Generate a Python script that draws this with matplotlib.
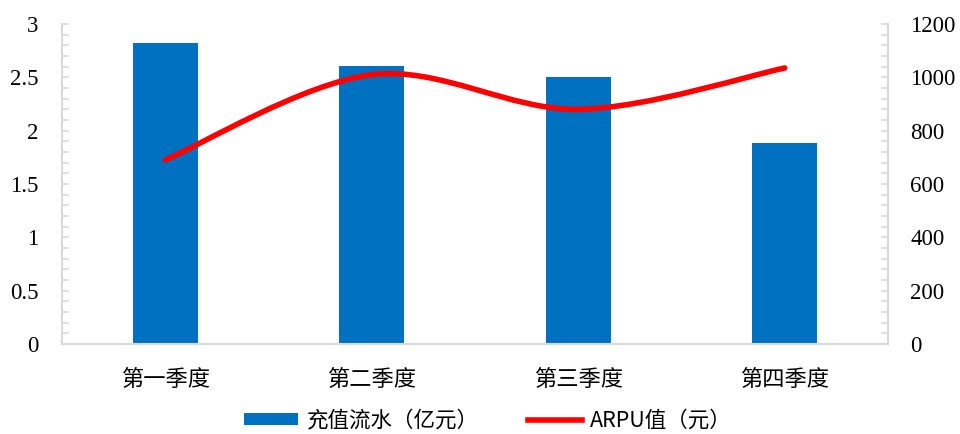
import matplotlib
matplotlib.use("Agg")
import matplotlib.pyplot as plt
from matplotlib.path import Path
from matplotlib.patches import PathPatch
from matplotlib.lines import Line2D
from matplotlib.patches import Patch
from matplotlib.ticker import MultipleLocator
import numpy as np

categories = ["第一季度", "第二季度", "第三季度", "第四季度"]
recharge = [2.82, 2.61, 2.50, 1.88]        # 亿元
arpu = [690, 1010, 880, 1035]              # 元
left_ticks = [0, 0.5, 1, 1.5, 2, 2.5, 3]
left_labels = ["0", "0.5", "1", "1.5", "2", "2.5", "3"]
right_ticks = [0, 200, 400, 600, 800, 1000, 1200]

serif = ["Liberation Serif", "Noto Sans CJK SC"]
cjk = ["Noto Sans CJK SC", "Liberation Serif"]
plt.rcParams['font.family'] = serif

fig = plt.figure(figsize=(9.6, 4.34), dpi=100)
ax = fig.add_axes([62/960, 1-344/434, (888-62)/960, (344-24)/434])
ax2 = ax.twinx()

x = np.arange(len(categories))
ax.bar(x, recharge, width=0.315, color="#0070C0", zorder=2)
ax.set_xlim(-0.5, len(categories) - 0.5)
ax.set_ylim(0, 3)
ax2.set_ylim(0, 1200)

# smooth line (Catmull-Rom style bezier, like Excel smoothing)
pts = np.column_stack([x, arpu]).astype(float)
verts = [tuple(pts[0])]
codes = [Path.MOVETO]
n = len(pts)
for i in range(n - 1):
    p0 = pts[i - 1] if i > 0 else pts[i]
    p1 = pts[i]
    p2 = pts[i + 1]
    p3 = pts[i + 2] if i + 2 < n else pts[i + 1]
    c1 = p1 + (p2 - p0) / 6.0
    c2 = p2 - (p3 - p1) / 6.0
    verts += [tuple(c1), tuple(c2), tuple(p2)]
    codes += [Path.CURVE4] * 3
ax2.add_patch(PathPatch(Path(verts, codes), facecolor="none", edgecolor="#FF0000",
                        lw=4, capstyle="round", joinstyle="round", zorder=3))

spine_c = "#D9D9D9"
for a in (ax, ax2):
    a.spines["top"].set_visible(False)
    for s in ("left", "right", "bottom"):
        a.spines[s].set_color(spine_c)
        a.spines[s].set_linewidth(1.5)
ax2.spines["left"].set_visible(False)
ax2.spines["bottom"].set_visible(False)
ax.spines["right"].set_visible(False)

ax.set_yticks(left_ticks)
ax.set_yticklabels(left_labels)
ax.yaxis.set_minor_locator(MultipleLocator(0.1))
ax.tick_params(axis="y", which="both", direction="in", length=5, color=spine_c,
               width=1.2, labelsize=16.5, pad=17, labelcolor="#000000")
ax2.set_yticks(right_ticks)
ax2.set_yticklabels([str(v) for v in right_ticks])
ax2.yaxis.set_minor_locator(MultipleLocator(40))
ax2.tick_params(axis="y", which="both", direction="in", length=5, color=spine_c,
                width=1.2, labelsize=16.5, pad=16, labelcolor="#000000")

ax.set_xticks(x)
ax.set_xticklabels(categories, fontfamily=cjk, fontsize=16)
ax.tick_params(axis="x", length=0, pad=17)

handles = [Patch(facecolor="#0070C0", edgecolor="none"),
           Line2D([0], [0], color="#FF0000", lw=4)]
leg = fig.legend(handles, ["充值流水（亿元）", "ARPU值（元）"], loc="center",
                 bbox_to_anchor=(488/960, 1-421/434), ncol=2, frameon=False,
                 prop={"family": cjk, "size": 15.5}, handlelength=2.5,
                 handleheight=0.5, columnspacing=2.3, handletextpad=0.4,
                 borderpad=0.1)

fig.savefig("out.png", dpi=100)
